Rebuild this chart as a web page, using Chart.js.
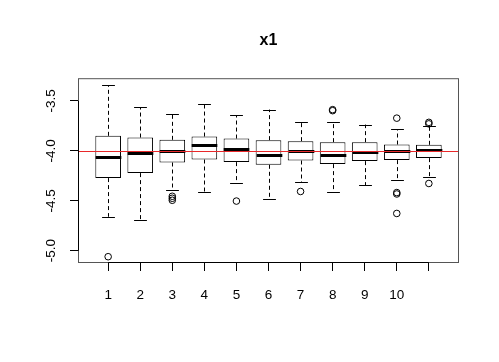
<!DOCTYPE html>
<html>
<head>
<meta charset="utf-8">
<script src="https://cdn.jsdelivr.net/npm/chart.js@4/dist/chart.umd.min.js"></script>
<style>
html,body{margin:0;padding:0;background:#fff;}
#c{display:block;}
</style>
</head>
<body>
<canvas id="c" width="499" height="362"></canvas>
<script>
const categories = ['1','2','3','4','5','6','7','8','9','10',''];
const whiskerHigh = [-3.343,-3.563,-3.633,-3.533,-3.643,-3.587,-3.713,-3.707,-3.737,-3.783,-3.750];
const q3Values    = [-3.850,-3.867,-3.890,-3.857,-3.877,-3.893,-3.903,-3.913,-3.913,-3.937,-3.940];
const medians     = [-4.063,-4.020,-4.000,-3.937,-3.977,-4.043,-3.997,-4.037,-4.013,-4.003,-3.990];
const q1Values    = [-4.273,-4.223,-4.117,-4.087,-4.113,-4.140,-4.097,-4.133,-4.103,-4.093,-4.073];
const whiskerLow  = [-4.660,-4.693,-4.390,-4.413,-4.323,-4.480,-4.317,-4.410,-4.343,-4.297,-4.263];
const outliers = [
  [-5.060],
  [],
  [-4.455,-4.475,-4.495],
  [],
  [-4.503],
  [],
  [-4.407],
  [-3.588,-3.598],
  [],
  [-3.673,-4.418,-4.432,-4.627],
  [-3.715,-3.730,-4.327]
];
const yTicks = [-5.0,-4.5,-4.0,-3.5];
const refLine = -4.0;
const titleText = 'x1';

const FONT = "'Liberation Sans', Arial, Helvetica, sans-serif";

const boxData = categories.map((c,i)=>({x:i+1, y:[q1Values[i], q3Values[i]]}));
const outlierData = [];
outliers.forEach((arr,i)=>arr.forEach(v=>outlierData.push({x:i+1, y:v})));

const boxPlugin = {
  id:'boxExtras',
  afterDatasetsDraw(chart){
    const ctx = chart.ctx, xs = chart.scales.x, ys = chart.scales.y, a = chart.chartArea;
    const bars = chart.getDatasetMeta(0).data;
    ctx.save();
    ctx.strokeStyle = '#000';
    ctx.lineWidth = 1;
    categories.forEach((c,i)=>{
      const cx = Math.round(xs.getPixelForValue(i+1)) + 0.5;
      const w = bars[i] ? bars[i].width : 25.6;
      // whiskers
      ctx.setLineDash([4,3]);
      ctx.beginPath();
      ctx.moveTo(cx, ys.getPixelForValue(q3Values[i]));
      ctx.lineTo(cx, ys.getPixelForValue(whiskerHigh[i]));
      ctx.moveTo(cx, ys.getPixelForValue(q1Values[i]));
      ctx.lineTo(cx, ys.getPixelForValue(whiskerLow[i]));
      ctx.stroke();
      ctx.setLineDash([]);
      // staples
      const hw = w/4;
      ctx.beginPath();
      let yh = Math.round(ys.getPixelForValue(whiskerHigh[i])) + 0.5;
      let yl = Math.round(ys.getPixelForValue(whiskerLow[i])) + 0.5;
      ctx.moveTo(cx-hw, yh); ctx.lineTo(cx+hw, yh);
      ctx.moveTo(cx-hw, yl); ctx.lineTo(cx+hw, yl);
      ctx.stroke();
      // median
      ctx.lineWidth = 3;
      ctx.beginPath();
      const ym = Math.round(ys.getPixelForValue(medians[i]));
      ctx.moveTo(cx-w/2, ym+0.5); ctx.lineTo(cx+w/2, ym+0.5);
      ctx.stroke();
      ctx.lineWidth = 1;
    });
    // reference line
    ctx.strokeStyle = '#e8282a';
    ctx.beginPath();
    const yr = Math.round(ys.getPixelForValue(refLine)) + 0.5;
    ctx.moveTo(a.left, yr); ctx.lineTo(a.right, yr);
    ctx.stroke();
    // frame
    ctx.strokeStyle = '#555';
    ctx.strokeRect(a.left+0.5, a.top+0.5, a.right-a.left-1, a.bottom-a.top-1);
    // axis lines
    ctx.strokeStyle = '#000';
    ctx.beginPath();
    ctx.moveTo(a.left+0.5, ys.getPixelForValue(yTicks[0]));
    ctx.lineTo(a.left+0.5, ys.getPixelForValue(yTicks[yTicks.length-1]));
    ctx.moveTo(xs.getPixelForValue(1), a.bottom-0.5);
    ctx.lineTo(xs.getPixelForValue(categories.length), a.bottom-0.5);
    ctx.stroke();
    ctx.restore();
  }
};

new Chart(document.getElementById('c'), {
  type:'bar',
  data:{
    datasets:[
      {type:'bar', data:boxData, backgroundColor:'#fff', borderColor:'#000', borderWidth:1,
       borderSkipped:false, categoryPercentage:1.0, barPercentage:0.8, order:2},
      {type:'scatter', data:outlierData, pointStyle:'circle', pointRadius:3.3, pointHoverRadius:3.3,
       backgroundColor:'rgba(0,0,0,0)', borderColor:'#000', pointBorderWidth:1, borderWidth:1, order:1}
    ]
  },
  options:{
    responsive:false,
    animation:false,
    devicePixelRatio:1,
    layout:{padding:{left:0,right:40,top:0,bottom:0}},
    plugins:{
      legend:{display:false},
      tooltip:{enabled:false},
      title:{display:true, text:titleText, fullSize:false, color:'#000',
        font:{family:FONT, size:16, weight:'bold', lineHeight:1.2},
        padding:{top:31, bottom:28}}
    },
    scales:{
      x:{type:'linear', min:0.06, max:11.94, offset:false,
        grid:{offset:false, drawOnChartArea:false, drawTicks:true, tickLength:8, color:'#000'},
        border:{display:false},
        afterBuildTicks(s){ s.ticks = categories.map((c,i)=>({value:i+1})); },
        afterFit(s){ s.height = 99; },
        ticks:{color:'#000', font:{family:FONT, size:13.5}, padding:16, maxRotation:0, minRotation:0,
          autoSkip:false, callback:(v)=>categories[Math.round(v)-1] ?? ''}
      },
      y:{type:'linear', min:-5.123, max:-3.273,
        grid:{drawOnChartArea:false, drawTicks:true, tickLength:8, color:'#000'},
        border:{display:false},
        afterBuildTicks(s){ s.ticks = yTicks.map(v=>({value:v})); },
        afterFit(s){ s.width = 78; },
        ticks:{color:'#000', font:{family:FONT, size:13.5}, padding:7, minRotation:90, maxRotation:90,
          crossAlign:'center', autoSkip:false, callback:(v)=>Number(v).toFixed(1)}
      }
    }
  },
  plugins:[boxPlugin]
});
</script>
</body>
</html>
